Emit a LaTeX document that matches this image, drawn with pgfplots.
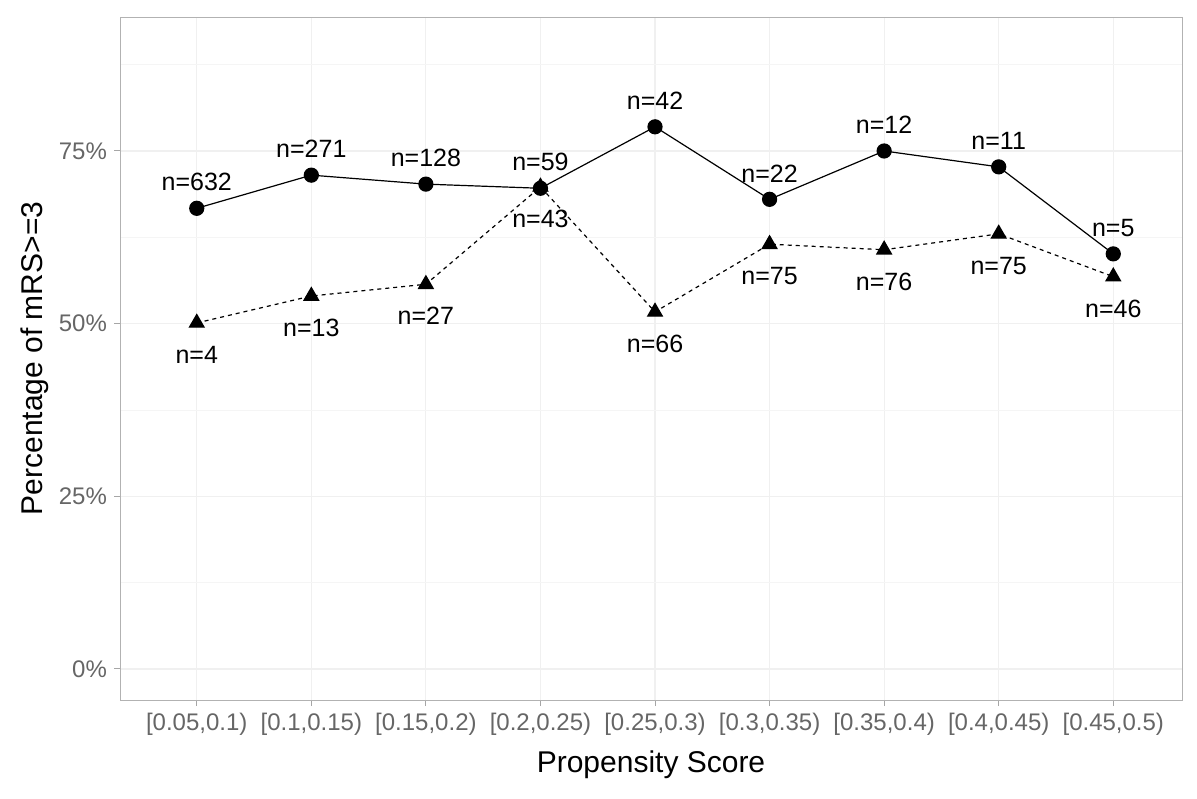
\documentclass[border=0pt]{standalone}
\usepackage{pgfplots}
\pgfplotsset{compat=1.18}
\usepackage{fontspec}
\setmainfont{Liberation Sans}
\begin{document}
\begin{tikzpicture}
\useasboundingbox (0,0) rectangle (598.5pt,399pt);
\begin{axis}[at={(60pt,49pt)}, anchor=south west,
  scale only axis, width=531pt, height=341.5pt,
  xmin=-0.67, xmax=8.6, ymin=-4.5, ymax=94.4,
  xtick={0,...,8}, tick pos=left,
  xticklabels={{[0.05,0.1)},{[0.1,0.15)},{[0.15,0.2)},{[0.2,0.25)},{[0.25,0.3)},{[0.3,0.35)},{[0.35,0.4)},{[0.4,0.45)},{[0.45,0.5)}},
  ytick={0,25,50,75}, yticklabels={0\%,25\%,50\%,75\%},
  minor ytick={12.5,37.5,62.5,87.5},
  xmajorgrids, ymajorgrids, yminorgrids,
  grid style={gray!12, line width=0.6pt},
  minor grid style={gray!8, line width=0.4pt},
  axis line style={gray!60, line width=0.5pt},
  tick style={gray!70, line width=0.5pt},
  tick align=outside, major tick length=3pt, minor tick length=0pt,
  ticklabel style={font=\fontsize{12}{13}\selectfont, text=gray!80!black},
  xticklabel style={inner xsep=0pt},
  xlabel={Propensity Score}, ylabel={Percentage of mRS>=3},
  label style={font=\fontsize{15}{16}\selectfont},
  xlabel style={yshift=-1pt}, ylabel style={yshift=-2pt},
  nodes near coords, point meta=explicit symbolic,
  legend style={at={(0.825,0.15)}, anchor=north west, draw=none, fill=none,
    font=\fontsize{12.5}{13}\selectfont, inner sep=0pt, row sep=-3pt},
  legend cell align=left,
]
\addlegendimage{empty legend}
\addlegendentry{\hspace{-12pt}\fontsize{14.5}{15}\selectfont intervention}
\addplot[black, line width=0.6pt, mark=*, mark size=3.5pt,
  every node near coord/.style={anchor=south, yshift=5pt, font=\fontsize{12.5}{14}\selectfont}]
 coordinates {(0,66.7)[n=632] (1,71.5)[n=271] (2,70.2)[n=128] (3,69.6)[n=59] (4,78.5)[n=42] (5,68.0)[n=22] (6,75.0)[n=12] (7,72.7)[n=11] (8,60.1)[n=5]};
\addplot[black, line width=0.6pt, dashed, dash pattern=on 2pt off 2pt, mark=triangle*, mark size=4.2pt, mark options={solid},
  every node near coord/.style={anchor=north, yshift=-8pt, font=\fontsize{12.5}{14}\selectfont}]
 coordinates {(0,50.1)[n=4] (1,54.0)[n=13] (2,55.7)[n=27] (3,69.8)[n=43] (4,51.7)[n=66] (5,61.5)[n=75] (6,60.7)[n=76] (7,63.0)[n=75] (8,56.8)[n=46]};
\addlegendimage{only marks, black, mark=*, mark size=3.5pt}
\addlegendentry{\hspace{-14pt}FALSE}
\addlegendimage{only marks, black, mark=triangle*, mark size=4.2pt}
\addlegendentry{\hspace{-14pt}TRUE}
\legend{}
\end{axis}
\end{tikzpicture}
\end{document}
